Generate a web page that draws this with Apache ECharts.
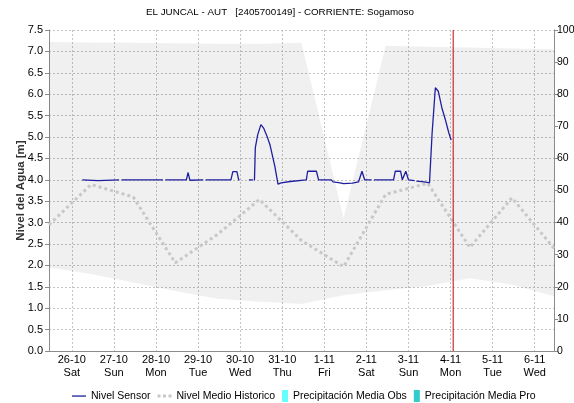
<!DOCTYPE html>
<html><head><meta charset="utf-8">
<script src="https://cdn.jsdelivr.net/npm/echarts@6/dist/echarts.min.js"></script>
<style>html,body{margin:0;padding:0;background:#fff}#c{width:574px;height:403px}</style>
</head><body><div id="c"></div>
<script>
const YEAR = 2024;
const titleText = 'EL JUNCAL - AUT   [2405700149] - CORRIENTE: Sogamoso';
const yAxisName = 'Nivel del Agua [m]';
const axisStart = '10-25 11:00';
const axisEnd = '11-06 11:00';
const stepMinutes = 5;
const nowMark = '11-04 01:30';
const nowMarkRange = [0, 7.5];
const dayNames = ['Sun', 'Mon', 'Tue', 'Wed', 'Thu', 'Fri', 'Sat'];
const seriesNames = ['Nivel Sensor', 'Nivel Medio Historico', 'Precipitación Media Obs', 'Precipitación Media Pro'];

// daily historic values (at 11:00 each day)
const dailyTimes = ['10-25 11:00', '10-26 11:00', '10-27 11:00', '10-28 11:00', '10-29 11:00', '10-30 11:00',
  '10-31 11:00', '11-01 11:00', '11-02 11:00', '11-03 11:00', '11-04 11:00', '11-05 11:00', '11-06 11:00'];
const histMean = [2.95, 3.89, 3.60, 2.06, 2.72, 3.54, 2.58, 1.97, 3.66, 3.92, 2.42, 3.58, 2.40];
const bandLower = [1.95, 1.80, 1.60, 1.40, 1.22, 1.15, 1.10, 1.30, 1.42, 1.52, 1.70, 1.55, 1.28];
const bandUpper = [7.22, 7.21, 7.20, 7.19, 7.18, 7.18, 7.20, 3.11, 7.13, 7.11, 7.09, 7.07, 7.05];

// sensor readings (null = missing)
const sensorTimes = [
  '10-26 06:00', '10-26 15:00', '10-26 16:00', '10-27 03:00', '10-27 03:40', '10-27 04:20',
  '10-27 17:30', '10-27 18:30', '10-27 19:30', '10-28 04:00', '10-28 04:40', '10-28 05:20',
  '10-28 17:20', '10-28 18:20', '10-28 19:20', '10-29 03:00', '10-29 03:40', '10-29 04:20',
  '10-29 18:45', '10-29 19:50', '10-29 22:10', '10-29 23:10', '10-29 23:40', '10-30 02:00',
  '10-30 05:00', '10-30 07:20', '10-30 07:45', '10-30 08:10', '10-30 08:40', '10-30 10:00',
  '10-30 11:50', '10-30 13:30', '10-30 15:20', '10-30 17:00', '10-30 19:50', '10-30 21:35',
  '10-30 23:20', '10-31 04:30', '10-31 13:45', '10-31 14:30', '10-31 19:30', '10-31 20:45',
  '11-01 04:00', '11-01 05:00', '11-01 09:00', '11-01 10:00', '11-01 11:00', '11-01 16:00',
  '11-01 19:30', '11-01 21:30', '11-01 23:00', '11-02 03:00', '11-02 03:40', '11-02 04:20',
  '11-02 15:30', '11-02 16:30', '11-02 19:30', '11-02 20:30', '11-02 22:30', '11-03 00:00',
  '11-03 03:30', '11-03 04:00', '11-03 04:30', '11-03 09:00', '11-03 12:00', '11-03 13:00',
  '11-03 13:30', '11-03 15:20', '11-03 17:00', '11-03 19:00', '11-03 21:00', '11-03 23:00',
  '11-04 00:20'];
const sensorValues = [
  4.00, 3.98, 4.00, 4.00, null, 4.00,
  4.00, 3.97, 4.00, 4.00, null, 4.00,
  4.00, 4.17, 3.99, 4.00, null, 4.00,
  4.00, 4.19, 4.19, 4.00, 4.00, null,
  4.00, 4.00, null, 3.99, 4.75, 5.05,
  5.29, 5.20, 5.02, 4.82, 4.31, 3.90,
  3.93, 3.96, 4.00, 4.20, 4.20, 4.00,
  4.00, 3.95, 3.93, 3.97, 3.91, 3.92,
  3.95, 4.20, 4.00, 4.00, null, 4.00,
  4.00, 4.20, 4.20, 4.00, 4.20, 4.00,
  3.98, null, 3.97, 3.95, 3.93, 3.92,
  5.10, 6.15, 6.07, 5.69, 5.41, 5.10,
  4.93];

const precipObs = [];
const precipPro = [];

const FONT = '"Liberation Sans", Arial, sans-serif';

function parseT(s) {
  const [md, hm] = s.split(' ');
  const [m, d] = md.split('-').map(Number);
  const [h, mi] = hm.split(':').map(Number);
  return new Date(YEAR, m - 1, d, h, mi);
}
const p2 = n => (n < 10 ? '0' : '') + n;
function nameOf(dt) {
  return p2(dt.getMonth() + 1) + '-' + p2(dt.getDate()) + ' ' + p2(dt.getHours()) + ':' + p2(dt.getMinutes());
}
// category list of time slots along the x axis
const categories = [];
for (let t = parseT(axisStart).getTime(); t <= parseT(axisEnd).getTime(); t += stepMinutes * 60000) {
  categories.push(nameOf(new Date(t)));
}
const isMidnight = (idx, val) => / 00:00$/.test(val);
function fmtX(val) {
  const d = parseT(val);
  return d.getDate() + '-' + (d.getMonth() + 1) + '\n' + dayNames[d.getDay()];
}

const RED = '#cc0000';
const chart = echarts.init(document.getElementById('c'), null, {renderer: 'canvas'});
const option = {
  animation: false,
  backgroundColor: '#fff',
  textStyle: {fontFamily: FONT},
  title: {text: titleText, left: 146, top: 7, padding: 0,
    textStyle: {fontSize: 9.8, fontWeight: 'normal', color: '#000', fontFamily: FONT}},
  grid: {left: 49, top: 30, width: 505, height: 321, containLabel: false, outerBoundsMode: 'none'},
  legend: [
    {data: [
       {name: seriesNames[0], icon: 'path://M0,0M14,12M0,5.4H14V6.7H0Z'},
       {name: seriesNames[1], icon: 'path://M0,0M14,12M0,4.5H3V7.5H0ZM5.5,4.5H8.5V7.5H5.5ZM11,4.5H14V7.5H11Z'}],
     left: 72, top: 390, padding: 0, itemWidth: 14, itemHeight: 12,
     itemGap: 7, selectedMode: false, textStyle: {fontSize: 10.5, color: '#000', fontFamily: FONT}},
    {data: [seriesNames[2], seriesNames[3]], left: 282, top: 390, padding: 0, itemWidth: 6, itemHeight: 12,
     itemGap: 7, icon: 'rect', selectedMode: false, textStyle: {fontSize: 10.5, color: '#000', fontFamily: FONT}}
  ],
  xAxis: [
    {type: 'category', data: categories, boundaryGap: false,
     axisLine: {show: true, lineStyle: {color: '#444', type: [1, 1]}},
     axisTick: {show: false},
     axisLabel: {interval: isMidnight, formatter: fmtX, margin: 2, fontSize: 11, lineHeight: 13,
       color: '#000', fontFamily: FONT},
     splitLine: {show: true, interval: isMidnight, lineStyle: {color: '#c4c4c4', type: [2, 2]}}},
    {type: 'value', position: 'top', min: 0, max: 1,
     axisLine: {show: true, lineStyle: {color: '#8c8c8c'}}, axisTick: {show: false},
     axisLabel: {show: false}, splitLine: {show: false}}
  ],
  yAxis: [
    {type: 'value', min: 0, max: 7.5, interval: 0.5, position: 'left',
     name: yAxisName, nameLocation: 'middle', nameGap: 22, nameMoveOverlap: false,
     nameTextStyle: {fontSize: 11.5, fontWeight: 'bold', color: '#333', fontFamily: FONT},
     axisLine: {show: true, lineStyle: {color: '#8c8c8c'}},
     axisTick: {show: true, length: 4, lineStyle: {color: '#8c8c8c'}},
     axisLabel: {formatter: v => v.toFixed(1), margin: 6, fontSize: 11, color: '#000', fontFamily: FONT},
     splitLine: {show: true, lineStyle: {color: '#c4c4c4', type: [2, 2]}}},
    {type: 'value', min: 0, max: 100, interval: 10, position: 'right',
     axisLine: {show: true, lineStyle: {color: '#8c8c8c'}},
     axisTick: {show: true, length: 4, lineStyle: {color: '#8c8c8c'}},
     axisLabel: {margin: 3, fontSize: 10.5, color: '#000', fontFamily: FONT},
     splitLine: {show: false}}
  ],
  series: [
    {name: 'bandLow', type: 'line', stack: 'band', silent: true, symbol: 'none',
     data: dailyTimes.map((t, i) => [t, bandLower[i]]),
     lineStyle: {opacity: 0}, z: 1},
    {name: 'bandRange', type: 'line', stack: 'band', silent: true, symbol: 'none',
     data: dailyTimes.map((t, i) => [t, +(bandUpper[i] - bandLower[i]).toFixed(3)]),
     lineStyle: {opacity: 0}, areaStyle: {color: 'rgba(0,0,0,0.06)', opacity: 1}, z: 1},
    {name: seriesNames[1], type: 'line', symbol: 'none', silent: true,
     data: dailyTimes.map((t, i) => [t, histMean[i]]),
     lineStyle: {color: '#c8c8c8', width: 3, type: [3, 3]}, itemStyle: {color: '#c8c8c8'}, z: 3},
    {name: seriesNames[0], type: 'line', symbol: 'none', silent: true,
     data: sensorTimes.map((t, i) => [t, sensorValues[i] == null ? '-' : sensorValues[i]]),
     lineStyle: {color: '#1f1f9f', width: 1.3}, itemStyle: {color: '#1f1f9f'}, z: 4},
    {name: 'nowLine', type: 'line', symbol: 'none', silent: true, z: 5,
     data: nowMarkRange.map(v => [nowMark, v]),
     lineStyle: {color: RED, width: 1}, itemStyle: {color: RED}},
    {name: seriesNames[2], type: 'bar', yAxisIndex: 1, data: precipObs, itemStyle: {color: '#66ffff'}},
    {name: seriesNames[3], type: 'bar', yAxisIndex: 1, data: precipPro, itemStyle: {color: '#33cccc'}}
  ]
};
chart.setOption(option);
</script>
</body></html>
